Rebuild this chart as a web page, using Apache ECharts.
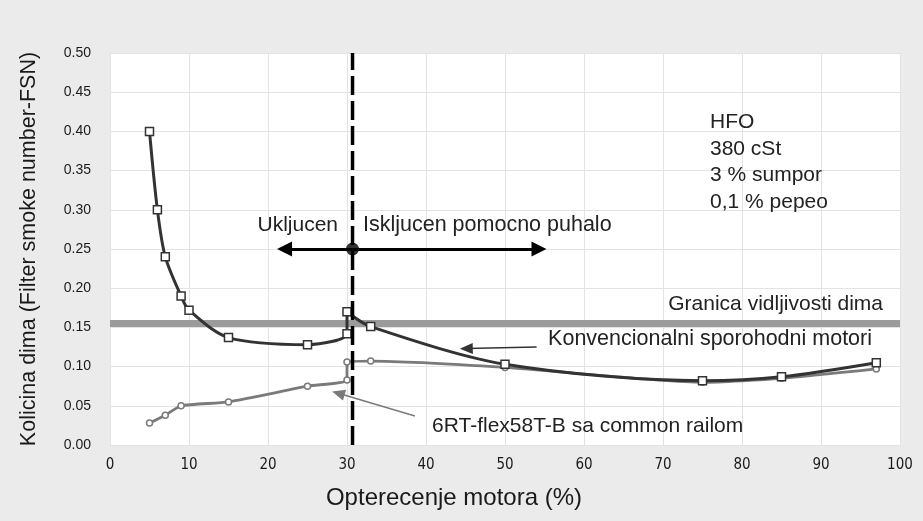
<!DOCTYPE html>
<html>
<head>
<meta charset="utf-8">
<script src="https://cdn.jsdelivr.net/npm/echarts@6/dist/echarts.min.js"></script>
<style>html,body{margin:0;padding:0;background:#ebebeb;}#c{width:923px;height:521px;}</style>
</head>
<body>
<div id="c"></div>
<script>
// ---- data ----
const xTicks = [0, 10, 20, 30, 40, 50, 60, 70, 80, 90, 100];
const conventionalLoad = [5, 6, 7, 9, 10, 15, 25, 30, 30, 33, 50, 75, 85, 97];
const conventionalFSN  = [0.40, 0.30, 0.24, 0.19, 0.172, 0.137, 0.128, 0.142, 0.17, 0.151, 0.103, 0.082, 0.087, 0.105];
const flexLoad = [5, 7, 9, 15, 25, 30, 30, 33, 50, 75, 85, 97];
const flexFSN  = [0.028, 0.038, 0.05, 0.055, 0.075, 0.083, 0.106, 0.107, 0.099, 0.080, 0.085, 0.097];
const visibilityLimit = 0.155;
const blowerSwitchLoad = 30.7;
const blowerArrowY = 0.25;
const blowerArrowLeft = 22.1;
const blowerArrowRight = 54.3;
const conventionalPointer = [[54.0, 0.125], [45.1, 0.123]];
const flexPointer = [[38.6, 0.037], [28.9, 0.066]];
const fuelNotes = ['HFO', '380 cSt', '3 % sumpor', '0,1 % pepeo'];

const pair = (xs, ys) => xs.map((x, i) => [x, ys[i]]);
const FONT = '"Liberation Sans", Arial, sans-serif';

const chart = echarts.init(document.getElementById('c'));
chart.setOption({
  backgroundColor: '#ebebeb',
  animation: false,
  grid: { left: 110, right: 23, top: 53, bottom: 76, show: true, backgroundColor: '#ffffff', borderWidth: 0 },
  xAxis: {
    type: 'value', min: 0, max: 100, interval: 10,
    axisLine: { show: false }, axisTick: { show: false },
    axisLabel: { fontSize: 15, color: '#1a1a1a', margin: 13, fontFamily: '"Liberation Sans Narrow", "DejaVu Sans Condensed", Arial, sans-serif',
      formatter: v => xTicks.includes(v) ? String(v) : '' },
    splitLine: { show: true, lineStyle: { color: '#e3e3e3', width: 1 } }
  },
  yAxis: {
    type: 'value', min: 0, max: 0.5, interval: 0.05,
    name: 'Kolicina dima (Filter smoke number-FSN)', nameLocation: 'middle', nameGap: 70,
    nameTextStyle: { fontSize: 21.5, color: '#1a1a1a', fontFamily: FONT },
    axisLine: { show: false }, axisTick: { show: false },
    axisLabel: { fontSize: 14, color: '#1a1a1a', margin: 19, fontFamily: FONT, formatter: v => v.toFixed(2) },
    splitLine: { show: true, lineStyle: { color: '#e3e3e3', width: 1 } }
  },
  series: [
    {
      name: 'limit', type: 'line', z: 1, symbol: 'none', silent: true,
      data: [[0, visibilityLimit], [100, visibilityLimit]],
      lineStyle: { color: '#9b9b9b', width: 7 }
    },
    {
      name: '6RT-flex58T-B sa common railom', type: 'line', z: 3, smooth: 0.2,
      data: pair(flexLoad, flexFSN),
      symbol: 'circle', symbolSize: 6,
      itemStyle: { color: '#ffffff', borderColor: '#7a7a7a', borderWidth: 1.5 },
      lineStyle: { color: '#7a7a7a', width: 2.8 },
      markLine: {
        silent: true, symbol: ['none', 'triangle'], symbolSize: [11, 13], label: { show: false },
        lineStyle: { color: '#7a7a7a', width: 1.5, type: 'solid' },
        data: [[{ coord: flexPointer[0] }, { coord: flexPointer[1] }]]
      }
    },
    {
      name: 'Konvencionalni sporohodni motori', type: 'line', z: 4, smooth: 0.3,
      data: pair(conventionalLoad, conventionalFSN),
      symbol: 'rect', symbolSize: 8,
      itemStyle: { color: '#ffffff', borderColor: '#333333', borderWidth: 1.5 },
      lineStyle: { color: '#333333', width: 3 },
      markLine: {
        silent: true, symbol: ['none', 'triangle'], symbolSize: [11, 13], label: { show: false },
        lineStyle: { color: '#333', width: 1.5, type: 'solid' },
        data: [[{ coord: conventionalPointer[0] }, { coord: conventionalPointer[1] }]]
      }
    },
    {
      name: 'switch', type: 'line', z: 6, symbol: 'none', silent: true,
      data: [[blowerSwitchLoad, 0], [blowerSwitchLoad, 0.5]],
      lineStyle: { color: '#000', width: 3.5, type: [19, 6] }
    },
    {
      name: 'blower', type: 'scatter', z: 7, silent: true,
      data: [[blowerSwitchLoad, blowerArrowY]],
      symbol: 'circle', symbolSize: 13, itemStyle: { color: '#000' },
      markLine: {
        silent: true, symbol: ['none', 'triangle'], symbolSize: [15, 15], label: { show: false },
        lineStyle: { color: '#000', width: 3, type: 'solid' },
        data: [
          [{ coord: [blowerSwitchLoad, blowerArrowY] }, { coord: [blowerArrowLeft, blowerArrowY] }],
          [{ coord: [blowerSwitchLoad, blowerArrowY] }, { coord: [blowerArrowRight, blowerArrowY] }]
        ]
      }
    }
  ],
  graphic: [
    { type: 'text', x: 454, y: 498, z: 100, style: { text: 'Opterecenje motora (%)', fontSize: 24, fontFamily: FONT, fill: '#1a1a1a', align: 'center', verticalAlign: 'middle' } },
    { type: 'text', x: 338, y: 225, z: 100, style: { text: 'Ukljucen', fontSize: 21, fontFamily: FONT, fill: '#222', align: 'right', verticalAlign: 'middle' } },
    { type: 'text', x: 363, y: 225, z: 100, style: { text: 'Iskljucen pomocno puhalo', fontSize: 21.5, fontFamily: FONT, fill: '#222', align: 'left', verticalAlign: 'middle' } },
    { type: 'text', x: 710, y: 109, z: 100, style: { text: fuelNotes.join('\n'), fontSize: 21, lineHeight: 26.5, fontFamily: FONT, fill: '#222', align: 'left', verticalAlign: 'top' } },
    { type: 'text', x: 883, y: 304, z: 100, style: { text: 'Granica vidljivosti dima', fontSize: 21, fontFamily: FONT, fill: '#222', align: 'right', verticalAlign: 'middle' } },
    { type: 'text', x: 872, y: 339, z: 100, style: { text: 'Konvencionalni sporohodni motori', fontSize: 21.5, fontFamily: FONT, fill: '#222', align: 'right', verticalAlign: 'middle' } },
    { type: 'text', x: 432, y: 426, z: 100, style: { text: '6RT-flex58T-B sa common railom', fontSize: 21, fontFamily: FONT, fill: '#222', align: 'left', verticalAlign: 'middle' } }
  ]
});
</script>
</body>
</html>
